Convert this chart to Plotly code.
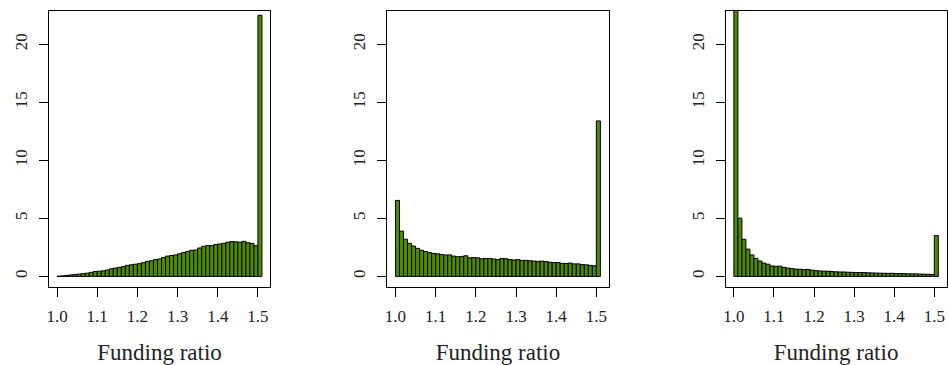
import numpy as np
import plotly.graph_objects as go

# ---- data -------------------------------------------------------------
bin_width = 0.01
bin_left = np.round(np.arange(1.00, 1.505, bin_width), 2)  # 51 bins: 1.00 ... 1.50

density_panel1 = [
    0.02, 0.05, 0.09, 0.13, 0.17, 0.20, 0.24, 0.28, 0.35, 0.42,
    0.45, 0.48, 0.55, 0.65, 0.72, 0.78, 0.85, 0.95, 1.00, 1.05,
    1.10, 1.18, 1.30, 1.35, 1.45, 1.50, 1.62, 1.75, 1.80, 1.85,
    1.95, 2.05, 2.15, 2.25, 2.28, 2.45, 2.60, 2.65, 2.65, 2.75,
    2.80, 2.85, 2.95, 3.00, 2.98, 2.95, 3.02, 2.90, 2.85, 2.65,
    22.5,
]
density_panel2 = [
    6.55, 3.90, 3.20, 2.85, 2.62, 2.42, 2.25, 2.15, 2.05, 1.98,
    1.95, 1.88, 1.85, 1.85, 1.75, 1.70, 1.72, 1.78, 1.60, 1.62,
    1.60, 1.52, 1.55, 1.55, 1.50, 1.45, 1.55, 1.52, 1.45, 1.42,
    1.45, 1.38, 1.38, 1.35, 1.32, 1.30, 1.32, 1.28, 1.22, 1.20,
    1.20, 1.12, 1.12, 1.15, 1.08, 1.08, 1.02, 1.00, 0.95, 0.92,
    13.4,
]
density_panel3 = [
    24.0, 5.02, 3.20, 2.35, 1.85, 1.55, 1.33, 1.15, 1.05, 0.90,
    0.88, 0.88, 0.78, 0.72, 0.67, 0.63, 0.62, 0.58, 0.60, 0.54,
    0.50, 0.47, 0.45, 0.45, 0.42, 0.40, 0.38, 0.38, 0.36, 0.35,
    0.33, 0.33, 0.34, 0.31, 0.30, 0.29, 0.28, 0.27, 0.26, 0.27,
    0.25, 0.25, 0.24, 0.22, 0.22, 0.22, 0.20, 0.19, 0.18, 0.17,
    3.52,
]
panels = [density_panel1, density_panel2, density_panel3]

x_tick_values = [1.0, 1.1, 1.2, 1.3, 1.4, 1.5]
x_tick_labels = ["1.0", "1.1", "1.2", "1.3", "1.4", "1.5"]
y_tick_values = [0, 5, 10, 15, 20]
y_tick_labels = ["0", "5", "10", "15", "20"]
x_title = "Funding ratio"

# ---- styling ----------------------------------------------------------
W, H = 948, 365
FONT = "Liberation Serif"
TEXT_COLOR = "#222"
BAR_COLOR = "#4f8a00"
x_range = [0.9796, 1.5304]
y_range = [-0.88, 22.88]
box_left_px = [47, 386.5, 726]
box_width_px = 222
box_top_px, box_bottom_px = 11, 289

fig = go.Figure()
for i, vals in enumerate(panels):
    suffix = "" if i == 0 else str(i + 1)
    fig.add_trace(go.Bar(
        x=bin_left, y=vals, width=bin_width, offset=0,
        marker=dict(color=BAR_COLOR, line=dict(color="black", width=1)),
        xaxis="x" + suffix, yaxis="y" + suffix, showlegend=False,
    ))
    x0 = box_left_px[i] / W
    x1 = min(947.5 / W, (box_left_px[i] + box_width_px) / W)
    axis_common = dict(
        showline=True, linecolor="black", linewidth=1, mirror=True,
        ticks="outside", ticklen=9, tickwidth=1, tickcolor="black",
        showgrid=False, zeroline=False,
        tickfont=dict(family=FONT, size=17, color=TEXT_COLOR),
        ticklabelstandoff=5,
    )
    fig.update_layout({
        "xaxis" + suffix: dict(
            domain=[x0, x1], range=x_range, anchor="y" + suffix,
            tickvals=x_tick_values, ticktext=x_tick_labels,
            title=dict(text=x_title, font=dict(family=FONT, size=23, color=TEXT_COLOR), standoff=23),
            **axis_common,
        ),
        "yaxis" + suffix: dict(
            domain=[1 - box_bottom_px / H, 1 - box_top_px / H], range=y_range,
            anchor="x" + suffix, tickvals=y_tick_values, ticktext=y_tick_labels,
            tickangle=-90,
            **axis_common,
        ),
    })

fig.update_layout(
    width=W, height=H,
    margin=dict(l=0, r=0, t=0, b=0),
    plot_bgcolor="white", paper_bgcolor="white",
    bargap=0, showlegend=False, hovermode=False,
    font=dict(family=FONT, color=TEXT_COLOR),
)

fig.write_html(
    "out.html",
    config={"displayModeBar": False, "staticPlot": True},
    post_script="document.body.style.margin='0';document.body.style.overflow='hidden';",
)
